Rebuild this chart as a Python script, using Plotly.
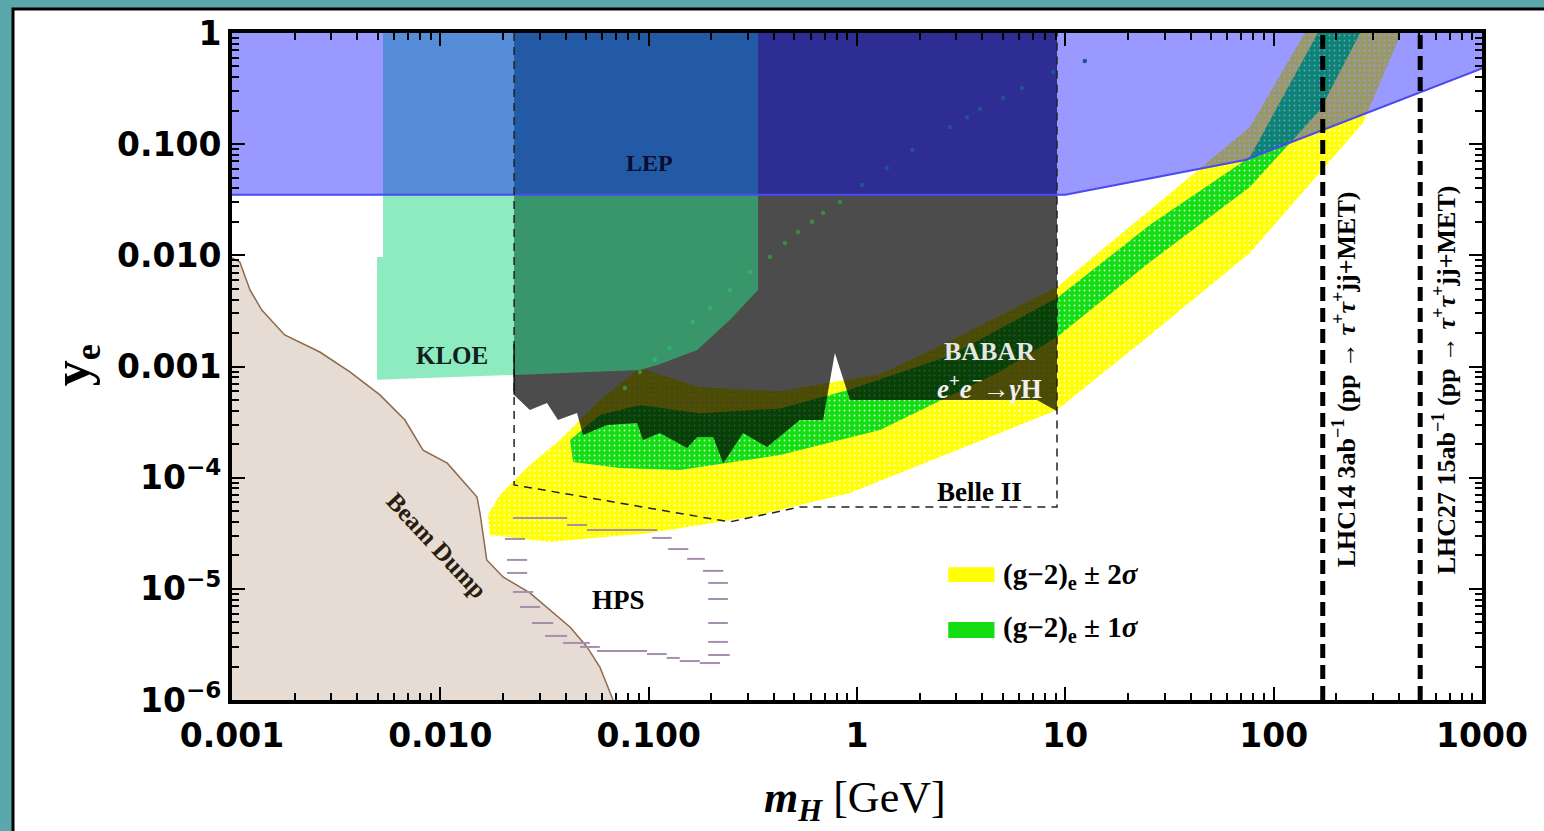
import plotly.graph_objects as go

# ---------------- data ----------------
x_ticks = [0.001, 0.01, 0.1, 1, 10, 100, 1000]
x_ticktext = ["0.001", "0.010", "0.100", "1", "10", "100", "1000"]
y_ticks = [1e-6, 1e-5, 1e-4, 1e-3, 1e-2, 1e-1, 1]
y_ticktext = ["10<sup>−6</sup>", "10<sup>−5</sup>", "10<sup>−4</sup>", "0.001", "0.010", "0.100", "1"]

# perturbativity / LEP-like blue bound (lower edge)
blue_x = [0.001, 10, 73, 1000]
blue_y = [0.035, 0.035, 0.072, 0.48]

# KLOE excluded region (outline)
kloe_x = [0.00531, 0.00531, 0.00497, 0.00497, 0.0226, 0.0908, 0.113, 0.171, 0.245, 0.335, 0.335]
kloe_y = [1.0, 0.00966, 0.00966, 0.00076, 0.00084, 0.00093, 0.00105, 0.00141, 0.00262, 0.00488, 1.0]

# BABAR / LEP dark region (outline, jagged lower edge)
grey_x = [0.0226, 0.0226, 0.0269, 0.0325, 0.0367, 0.0453, 0.0484, 0.0631, 0.0879, 0.0940,
          0.113, 0.153, 0.171, 0.204, 0.228, 0.284, 0.370, 0.532, 0.687, 0.783, 0.925,
          7.31, 9.12, 9.12]
grey_y = [1.0, 0.000555, 0.000406, 0.000470, 0.000330, 0.000382, 0.000242, 0.000298, 0.000310, 0.000218,
          0.000252, 0.000185, 0.000232, 0.000232, 0.000135, 0.000252, 0.000189, 0.000330, 0.000330, 0.00132, 0.000500,
          0.000500, 0.000395, 1.0]

# Belle II projection (dashed outline)
belle_x = [0.0226, 0.0226, 0.245, 0.532, 9.12, 9.12]
belle_y = [1.0, 8.6e-5, 4.0e-5, 5.45e-5, 5.45e-5, 1.0]

# (g-2)_e +- 2 sigma band (outline)
band2_x = [0.0169, 0.0193, 0.0269, 0.0375, 0.0583, 0.0908, 0.176, 0.427, 1.29, 2.79, 9.12, 25.5, 76.9, 141,
           404, 391, 268, 76.9, 25.5, 9.12, 2.79, 0.925, 0.306, 0.101, 0.0336, 0.0173]
band2_y = [4.61e-5, 6.98e-5, 1.30e-4, 2.18e-4, 5.00e-4, 9.70e-4, 6.5e-4, 6.0e-4, 8.5e-4, 1.7e-3, 5.2e-3, 0.0256, 0.143, 1.0,
           1.0, 0.813, 0.155, 0.0105, 0.00192, 4.06e-4, 1.67e-4, 7.28e-5, 4.42e-5, 3.18e-5, 2.64e-5, 3.05e-5]

# (g-2)_e +- 1 sigma band (outline)
band1_x = [0.0419, 0.0583, 0.0908, 0.176, 0.427, 0.925, 2.79, 9.12, 25.5, 76.9, 163,
           260, 167, 76.9, 25.5, 9.12, 4.86, 1.29, 0.427, 0.141, 0.0727, 0.0434]
band1_y = [2.18e-4, 3.66e-4, 4.51e-4, 3.8e-4, 4.2e-4, 6.2e-4, 1.25e-3, 4.13e-3, 0.0188, 0.0767, 1.0,
           1.0, 0.203, 0.0412, 0.00871, 0.00184, 9.0e-4, 2.69e-4, 1.60e-4, 1.17e-4, 1.22e-4, 1.38e-4]

# thin line of scan points
dots_x = [0.0769, 0.0908, 0.107, 0.126, 0.163, 0.197, 0.245, 0.306, 0.382, 0.451, 0.521, 0.608, 0.687,
          0.828, 1.06, 1.39, 1.84, 2.79, 3.37, 3.89, 5.02, 6.19, 8.73, 12.4]
dots_y = [0.000641, 0.000893, 0.00115, 0.00147, 0.00251, 0.00336, 0.00488, 0.00708, 0.00966, 0.0129, 0.0162,
          0.0200, 0.0240, 0.0302, 0.0430, 0.0611, 0.0887, 0.143, 0.175, 0.207, 0.260, 0.320, 0.446, 0.560]

# beam dump boundary
bd_x = [0.001, 0.00109, 0.00122, 0.00139, 0.00179, 0.00264, 0.00368, 0.00513, 0.00676, 0.00826, 0.0108,
        0.0150, 0.0155, 0.0167, 0.0200, 0.0269, 0.0419, 0.0506, 0.0583, 0.0675]
bd_y = [0.0095, 0.00871, 0.00488, 0.00322, 0.00192, 0.00135, 0.000893, 0.000555, 0.000330, 0.000177, 0.000135,
        6.70e-5, 4.81e-5, 1.82e-5, 1.28e-5, 9.18e-6, 4.54e-6, 3.00e-6, 1.98e-6, 1.0e-6]

# HPS projected contour (horizontal step segments)
hps_x0 = [0.0204, 0.0209, 0.0209, 0.0223, 0.0241, 0.0275, 0.0318, 0.0388, 0.0468, 0.0565, 0.0982, 0.122, 0.141, 0.176,
          0.193, 0.193, 0.193, 0.193, 0.193, 0.182, 0.153, 0.124, 0.104, 0.0506, 0.0406, 0.0223]
hps_x1 = [0.0255, 0.0261, 0.0261, 0.0279, 0.0301, 0.0348, 0.0406, 0.0522, 0.0583, 0.0982, 0.122, 0.141, 0.176, 0.220,
          0.245, 0.240, 0.240, 0.240, 0.240, 0.228, 0.186, 0.155, 0.129, 0.110, 0.0506, 0.0406]
hps_y = [2.81e-5, 1.82e-5, 1.39e-5, 9.37e-6, 6.87e-6, 4.93e-6, 3.77e-6, 3.26e-6, 3.00e-6, 2.76e-6, 2.59e-6, 2.39e-6, 2.24e-6, 2.15e-6,
         2.54e-6, 3.33e-6, 4.93e-6, 8.1e-6, 1.13e-5, 1.45e-5, 1.86e-5, 2.28e-5, 2.87e-5, 3.38e-5, 3.75e-5, 4.34e-5]

# LHC reach lines
lhc_masses = [172, 505]
lhc_labels = ["<b>LHC14 3ab<sup>−1</sup> (pp → <i>τ</i><sup>+</sup><i>τ</i><sup>+</sup>jj+MET)</b>",
              "<b>LHC27 15ab<sup>−1</sup> (pp → <i>τ</i><sup>+</sup><i>τ</i><sup>+</sup>jj+MET)</b>"]

# ---------------- figure ----------------
fig = go.Figure()

# beam dump
fig.add_trace(go.Scatter(x=bd_x + [0.001], y=bd_y + [1e-6], fill="toself", mode="none",
                         fillcolor="#e6dcd3", hoverinfo="skip"))
fig.add_trace(go.Scatter(x=bd_x, y=bd_y, mode="lines", line=dict(color="#8c6a4c", width=1.5), hoverinfo="skip"))

# g-2 bands (speckled fill)
fig.add_trace(go.Scatter(x=band2_x + [band2_x[0]], y=band2_y + [band2_y[0]], fill="toself", mode="none",
                         fillcolor="#ffff00", hoverinfo="skip",
                         fillpattern=dict(shape=".", fgcolor="white", fgopacity=0.9, size=5, solidity=0.12,
                                          fillmode="overlay")))
fig.add_trace(go.Scatter(x=band1_x + [band1_x[0]], y=band1_y + [band1_y[0]], fill="toself", mode="none",
                         fillcolor="#14dd14", hoverinfo="skip",
                         fillpattern=dict(shape=".", fgcolor="white", fgopacity=0.8, size=5, solidity=0.10,
                                          fillmode="overlay")))

# HPS
hx, hy = [], []
for a, b, c in zip(hps_x0, hps_x1, hps_y):
    hx += [a, b, None]
    hy += [c, c, None]
fig.add_trace(go.Scatter(x=hx, y=hy, mode="lines", line=dict(color="#a48fb0", width=2), hoverinfo="skip"))

# BABAR / dark region
fig.add_trace(go.Scatter(x=grey_x + [grey_x[0]], y=grey_y + [grey_y[0]], fill="toself", mode="none",
                         fillcolor="rgba(0,0,0,0.70)", hoverinfo="skip"))
# scan-point line
fig.add_trace(go.Scatter(x=dots_x, y=dots_y, mode="markers",
                         marker=dict(color="#3b8a45", size=4.5), hoverinfo="skip"))
# KLOE
fig.add_trace(go.Scatter(x=kloe_x + [kloe_x[0]], y=kloe_y + [kloe_y[0]], fill="toself", mode="none",
                         fillcolor="rgba(41,217,136,0.53)", hoverinfo="skip"))
# blue region
fig.add_trace(go.Scatter(x=blue_x + [1000, 0.001, 0.001], y=blue_y + [1, 1, blue_y[0]], fill="toself", mode="none",
                         fillcolor="rgba(0,0,255,0.40)", hoverinfo="skip"))
fig.add_trace(go.Scatter(x=blue_x, y=blue_y, mode="lines", line=dict(color="#4a4af0", width=2), hoverinfo="skip"))

# Belle II dashed
fig.add_trace(go.Scatter(x=belle_x, y=belle_y, mode="lines",
                         line=dict(color="#222222", width=1.5, dash="8px,6px"), hoverinfo="skip"))
# solid left edge of the dark region
fig.add_trace(go.Scatter(x=[0.0226, 0.0226], y=[0.0016, 0.00056], mode="lines",
                         line=dict(color="#111111", width=1.5), hoverinfo="skip"))

# LHC lines
for m in lhc_masses:
    fig.add_trace(go.Scatter(x=[m, m], y=[1e-6, 1], mode="lines",
                             line=dict(color="black", width=5, dash="14px,7px"), hoverinfo="skip"))

minor_vals = [k * 10.0 ** e for e in range(-3, 3) for k in range(2, 10)]
minor_vals_y = [k * 10.0 ** e for e in range(-6, 0) for k in range(2, 10)]

tickfont = dict(family="DejaVu Sans", size=33, color="black", weight="bold")

fig.update_xaxes(type="log", range=[-3, 3], tickvals=x_ticks, ticktext=x_ticktext,
                 ticks="inside", ticklen=13, tickwidth=2, tickcolor="black",
                 showline=True, linewidth=4, linecolor="black", mirror="ticks",
                 showgrid=False, zeroline=False, tickfont=tickfont, ticklabelstandoff=3,
                 minor=dict(tickvals=minor_vals, ticks="inside", ticklen=7, tickwidth=1.5,
                            tickcolor="black", showgrid=False))
fig.update_yaxes(type="log", range=[-6, 0], tickvals=y_ticks, ticktext=y_ticktext,
                 ticks="inside", ticklen=13, tickwidth=2, tickcolor="black",
                 showline=True, linewidth=4, linecolor="black", mirror="ticks",
                 showgrid=False, zeroline=False, tickfont=tickfont, ticklabelstandoff=0,
                 minor=dict(tickvals=minor_vals_y, ticks="inside", ticklen=7, tickwidth=1.5,
                            tickcolor="black", showgrid=False))

# page frame: teal background with white panel
fig.add_shape(type="rect", xref="paper", yref="paper", x0=-0.1752, x1=1.08, y0=-0.26, y1=1.036,
              fillcolor="white", line=dict(color="black", width=3), layer="below")

# legend (custom)
fig.add_shape(type="rect", xref="paper", yref="paper", x0=0.573, x1=0.610, y0=0.177, y1=0.199,
              fillcolor="#ffff00", line=dict(width=0))
fig.add_shape(type="rect", xref="paper", yref="paper", x0=0.573, x1=0.610, y0=0.093, y1=0.117,
              fillcolor="#14dd14", line=dict(width=0))

serif = "Liberation Serif"
ann = []
def lab(text, x, y, size=20, color="black", angle=0, xanchor="center"):
    ann.append(dict(text=text, x=x, y=y, xref="paper", yref="paper", showarrow=False,
                    font=dict(family=serif, size=size, color=color), textangle=angle,
                    xanchor=xanchor, yanchor="middle"))

lab("<b>(g−2)<sub>e</sub> ± 2<i>σ</i></b>", 0.615, 0.186, size=29, xanchor="left")
lab("<b>(g−2)<sub>e</sub> ± 1<i>σ</i></b>", 0.615, 0.106, size=29, xanchor="left")
lab("<b>LEP</b>", 0.334, 0.805, size=24, color="#0c0c30")
lab("<b>KLOE</b>", 0.176, 0.517, size=25, color="#102020")
lab("<b>BABAR</b>", 0.606, 0.523, size=26, color="#e6e6e6")
lab("<b><i>e</i><sup>+</sup><i>e</i><sup>−</sup>→<i>γ</i>H</b>", 0.606, 0.469, size=27, color="#f0f0f0")
lab("<b>Belle II</b>", 0.598, 0.312, size=27)
lab("<b>HPS</b>", 0.309, 0.150, size=27)
lab("<b>Beam Dump</b>", 0.164, 0.232, size=25, color="#2a1c10", angle=47)
lab(lhc_labels[0], 0.890, 0.480, size=26, angle=-90)
lab(lhc_labels[1], 0.970, 0.480, size=26, angle=-90)
# axis titles
lab("<b><i>m</i><sub><i>H</i></sub></b> [GeV]", 0.498, -0.150, size=44)
lab("<b>y<sub>e</sub></b>", -0.1256, 0.502, size=52, angle=-90)
fig.update_layout(annotations=ann)

fig.update_layout(width=1544, height=831, autosize=False,
                  margin=dict(l=232, r=62, t=33, b=131),
                  paper_bgcolor="#5ba8ac", plot_bgcolor="white", showlegend=False)

fig.write_html("out.html")
